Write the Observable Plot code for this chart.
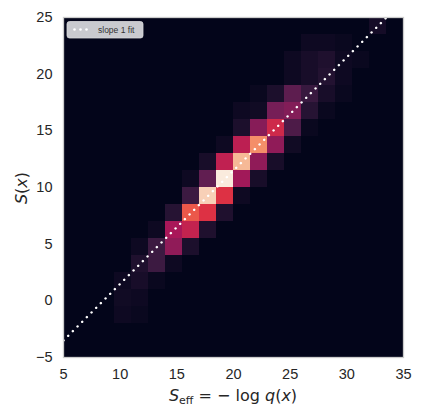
<!DOCTYPE html>
<html>
<head>
<meta charset="utf-8">
<script src="https://cdn.jsdelivr.net/npm/d3@7"></script>
<script src="https://cdn.jsdelivr.net/npm/@observablehq/plot@0.6"></script>
<style>
  html, body { margin: 0; padding: 0; background: white; }
  #chart svg { display: block; }
</style>
</head>
<body>
<div id="chart"></div>
<script>
// ---- data ----
const xStart = 5, yStart = -5, binWidth = 1.5, nBins = 20;
const xTicks = [5, 10, 15, 20, 25, 30, 35];
const yTicks = [-5, 0, 5, 10, 15, 20, 25];
// non-empty histogram cells: column index, row index, count
const cellCol = [18, 14,15,16, 13,14,15,16,17, 13,14,15,16, 11,12,13,14,15,16, 10,11,12,13,14,15, 10,11,12,13,14, 9,10,11,12,13, 8,9,10,11,12, 7,8,9,10,11, 7,8,9,10, 6,7,8,9, 5,6,7,8, 4,5,6,7, 4,5,6, 3,4,5, 3,4, 3,4];
const cellRow = [19, 18,18,18, 17,17,17,17,17, 16,16,16,16, 15,15,15,15,15,15, 14,14,14,14,14,14, 13,13,13,13,13, 12,12,12,12,12, 11,11,11,11,11, 10,10,10,10,10, 9,9,9,9, 8,8,8,8, 7,7,7,7, 6,6,6,6, 5,5,5, 4,4,4, 3,3, 2,2];
const cellCount = [5, 3,3,2, 3,6,8,3,2, 3,6,9,3, 2,7,24,15,6,2, 3,4,30,33,10,2, 7,34,52,20,2, 3,47,77,36,4, 6,48,87,36,6, 3,25,100,40,6, 16,93,56,3, 10,65,56,8, 3,42,49,8, 3,16,36,7, 8,16,3, 3,6,2, 4,3, 3,2];
const fitX = [5, 33.5];
const fitY = [-3.5, 25];
const legendLabel = "slope 1 fit";

// ---- build full grid ----
const counts = new Map();
cellCol.forEach((c, k) => counts.set(c + "," + cellRow[k], cellCount[k]));
const grid = [];
for (let i = 0; i < nBins; i++) for (let j = 0; j < nBins; j++) {
  grid.push({
    x1: xStart + i * binWidth, x2: xStart + (i + 1) * binWidth,
    y1: yStart + j * binWidth, y2: yStart + (j + 1) * binWidth,
    count: counts.get(i + "," + j) || 0
  });
}
const fit = fitX.map((x, k) => ({x, y: fitY[k]}));

const rocket = d3.piecewise(d3.interpolateRgb, ["#03051a", "#35193e", "#701f57", "#ad1759", "#e13342", "#f37651", "#f6b48f", "#faebdd"]);

const plot = Plot.plot({
  width: 423, height: 418,
  marginLeft: 63, marginRight: 20, marginTop: 17, marginBottom: 61,
  style: {fontFamily: "'Liberation Sans', Arial, sans-serif", fontSize: "14.5px", color: "#262626", background: "white", overflow: "visible"},
  x: {domain: [5, 35], label: null},
  y: {domain: [-5, 25], label: null},
  color: {type: "linear", domain: [0, 100], interpolate: rocket},
  marks: [
    Plot.rect(grid, {x1: "x1", x2: "x2", y1: "y1", y2: "y2", fill: "count", shapeRendering: "crispEdges"}),
    Plot.line(fit, {x: "x", y: "y", stroke: "white", strokeWidth: 2.4, strokeDasharray: "0.1 6.5", strokeLinecap: "round", clip: true}),
    Plot.frame({stroke: "#cccccc", strokeWidth: 1.3}),
    Plot.axisX({ticks: xTicks, tickSize: 0, tickPadding: 11, fontSize: 14.5, label: null}),
    Plot.axisY({ticks: yTicks, tickSize: 0, tickPadding: 11, fontSize: 14.5, label: null, tickFormat: d => d < 0 ? "\u2212" + Math.abs(d) : String(d)})
  ]
});
document.getElementById("chart").appendChild(plot);

// ---- axis titles and legend ----
const svg = d3.select(plot);
const math = "'DejaVu Sans', sans-serif";
const xl = svg.append("text").attr("x", 233).attr("y", 401).attr("text-anchor", "middle")
  .attr("font-family", math).attr("font-size", 16).attr("fill", "#262626");
xl.append("tspan").attr("font-style", "italic").text("S");
xl.append("tspan").attr("font-size", 11).attr("dy", 3).text("eff");
xl.append("tspan").attr("dy", -3).text(" = \u2212 log ");
xl.append("tspan").attr("font-style", "italic").text("q");
xl.append("tspan").text("(");
xl.append("tspan").attr("font-style", "italic").text("x");
xl.append("tspan").text(")");

const yl = svg.append("text").attr("transform", "translate(27,188) rotate(-90)").attr("text-anchor", "middle")
  .attr("font-family", math).attr("font-size", 16).attr("fill", "#262626");
yl.append("tspan").attr("font-style", "italic").text("S");
yl.append("tspan").text("(");
yl.append("tspan").attr("font-style", "italic").text("x");
yl.append("tspan").text(")");

const lg = svg.append("g");
lg.append("rect").attr("x", 67).attr("y", 21.5).attr("width", 76).attr("height", 16.5).attr("rx", 2.5)
  .attr("fill", "#c9cacf").attr("stroke", "#d9d9dc").attr("stroke-width", 0.8);
[74.5, 80.5, 86.5].forEach(cx => lg.append("circle").attr("cx", cx).attr("cy", 29.5).attr("r", 1.3).attr("fill", "white"));
lg.append("text").attr("x", 98).attr("y", 32.5).attr("text-anchor", "start").attr("font-size", 8.5).attr("fill", "#333")
  .attr("font-family", "'Liberation Sans', Arial, sans-serif").text(legendLabel);
</script>
</body>
</html>
